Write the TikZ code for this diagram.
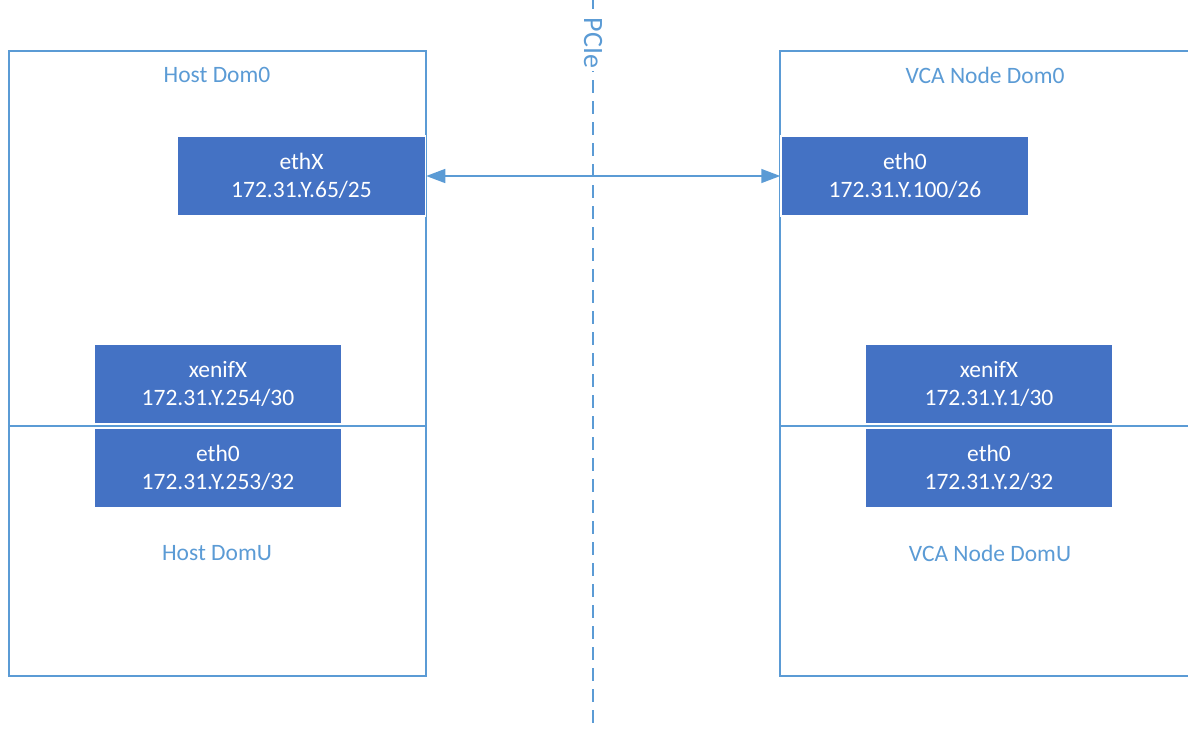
\documentclass[tikz,border=0pt]{standalone}
\usepackage{fontspec}
\setmainfont{Carlito}
\usetikzlibrary{arrows.meta}
\definecolor{ln}{HTML}{5B9BD5}
\definecolor{bx}{HTML}{4472C4}
\begin{document}
\begin{tikzpicture}[x=1pt,y=-1pt,
  frame/.style={draw=ln,line width=1.5pt},
  ifbox/.style={fill=bx,draw=white,line width=1.5pt,minimum width=248pt,minimum height=80pt,inner sep=0pt,text=white,font=\fontsize{23.5}{28.5}\selectfont,align=center},
  lbl/.style={text=ln,font=\fontsize{23.5}{28}\selectfont},
  conn/.style={draw=ln,line width=1.5pt}]
\useasboundingbox (0,0) rectangle (1188,729);
% PCIe line
\coordinate (pt) at (593,0);
\coordinate (pb) at (593,729);
\draw[ln,line width=1.5pt,dash pattern=on 13pt off 8pt,dash phase=4pt] (pt) -- (pb);
\node[lbl,rotate=-90,fill=white,inner sep=3pt,font=\fontsize{28}{30}\selectfont] (pcie) at (593,43) {PCIe};
% Frames
\draw[frame] (9,51) rectangle (426,676);
\draw[frame] (1200,51) -- (780,51) -- (780,676) -- (1200,676);
\coordinate (ld1) at (9,426);
\coordinate (ld2) at (426,426);
\coordinate (rd1) at (780,426);
\coordinate (rd2) at (1200,426);
\draw[conn] (ld1) -- (ld2);
\draw[conn] (rd1) -- (rd2);
% labels
\node[lbl] (hd0) at (217,75) {Host Dom0};
\node[lbl] (vd0) at (985,75) {VCA Node Dom0};
\node[lbl] (hdu) at (217,553) {Host DomU};
\node[lbl] (vdu) at (990,553) {VCA Node DomU};
% boxes
\node[ifbox] (ethX) at (301.5,176) {ethX\\172.31.Y.65/25};
\node[ifbox] (eth0r) at (905,176) {eth0\\172.31.Y.100/26};
\node[ifbox] (xenL) at (218,384) {xenifX\\172.31.Y.254/30};
\node[ifbox] (ethL) at (218,468) {eth0\\172.31.Y.253/32};
\node[ifbox] (xenR) at (989,384) {xenifX\\172.31.Y.1/30};
\node[ifbox] (ethR) at (989,468) {eth0\\172.31.Y.2/32};
\draw[conn,{Triangle[length=19pt,width=14pt]}-{Triangle[length=19pt,width=14pt]}] (ethX.east) -- (eth0r.west);
\end{tikzpicture}
\end{document}
